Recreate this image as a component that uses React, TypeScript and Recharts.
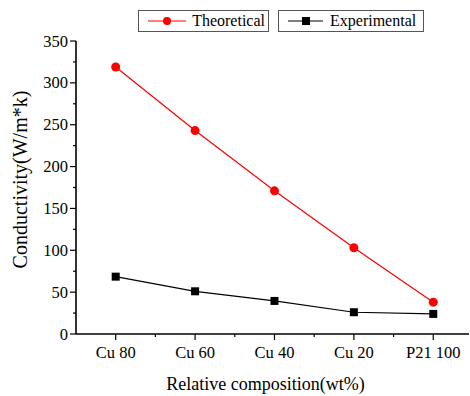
import { Legend, Line, LineChart, XAxis, YAxis } from 'recharts';

const categories = ['Cu 80', 'Cu 60', 'Cu 40', 'Cu 20', 'P21 100'];
const theoretical = [319, 243, 171, 103, 38];
const experimental = [68.5, 51, 39.5, 26, 24];
const xTicks = [0, 0.5, 1, 1.5, 2, 2.5, 3, 3.5, 4];
const yTicks = [0, 25, 50, 75, 100, 125, 150, 175, 200, 225, 250, 275, 300, 325, 350];

const data = categories.map((name, i) => ({
  idx: i,
  name,
  theoretical: theoretical[i],
  experimental: experimental[i],
}));

const FONT = 'Liberation Serif, Times New Roman, Times, serif';

function BottomTick(props: any) {
  const { x, y, payload } = props;
  const major = payload.value % 1 === 0;
  return (
    <g>
      <line x1={x} x2={x} y1={y} y2={y + (major ? 6 : 3)} stroke="#000" strokeWidth={1.2} />
      {major && (
        <text x={x} y={y + 24} textAnchor="middle" fontSize={16.5} fontFamily={FONT} fill="#000">
          {categories[payload.value]}
        </text>
      )}
    </g>
  );
}

function TopTick(props: any) {
  const { x, y } = props;
  return <line x1={x} x2={x} y1={y} y2={y + 2} stroke="#777" strokeWidth={1} />;
}

function LeftTick(props: any) {
  const { x, y, payload } = props;
  const major = payload.value % 50 === 0;
  return (
    <g>
      <line x1={x - (major ? 6 : 3)} x2={x} y1={y} y2={y} stroke="#000" strokeWidth={1.2} />
      {major && (
        <text x={x - 8} y={y + 5.5} textAnchor="end" fontSize={16.5} fontFamily={FONT} fill="#000">
          {payload.value}
        </text>
      )}
    </g>
  );
}

function YTitle(props: any) {
  const vb = props.viewBox;
  const cy = vb.y + vb.height / 2 - 8;
  return (
    <text
      x={20}
      y={cy}
      transform={`rotate(-90, 20, ${cy})`}
      textAnchor="middle"
      dominantBaseline="central"
      fontSize={20}
      fontFamily={FONT}
      fill="#000"
    >
      Conductivity(W/m*k)
    </text>
  );
}

function XTitle(props: any) {
  const vb = props.viewBox;
  return (
    <text x={vb.x + vb.width / 2 - 7} y={390} textAnchor="middle" fontSize={18} fontFamily={FONT} fill="#000">
      Relative composition(wt%)
    </text>
  );
}

function SquareDot(props: any) {
  const { cx, cy } = props;
  if (cx == null || cy == null) return null;
  return <rect x={cx - 4} y={cy - 4} width={8} height={8} fill="#000" />;
}

function LegendBoxes() {
  const box: React.CSSProperties = {
    display: 'flex',
    alignItems: 'center',
    border: '1px solid #555',
    height: 22,
    padding: '0 3px 0 9px',
    fontFamily: FONT,
    fontSize: 16,
    color: '#000',
    boxSizing: 'border-box',
  };
  return (
    <div style={{ display: 'flex', gap: 9 }}>
      <div style={{ ...box, width: 131 }}>
        <svg width={39} height={12}>
          <line x1={0} x2={38} y1={6} y2={6} stroke="#ff0000" strokeWidth={1.2} />
          <circle cx={19} cy={6} r={4} fill="#ff0000" />
        </svg>
        <span style={{ marginLeft: 6 }}>Theoretical</span>
      </div>
      <div style={{ ...box, width: 146 }}>
        <svg width={36} height={12}>
          <line x1={0} x2={35} y1={6} y2={6} stroke="#000" strokeWidth={1.2} />
          <rect x={14} y={2} width={8} height={8} fill="#000" />
        </svg>
        <span style={{ marginLeft: 6 }}>Experimental</span>
      </div>
    </div>
  );
}

export default function App() {
  return (
    <div
      style={{
        position: 'absolute',
        left: 0,
        top: 0,
        width: 470,
        height: 396,
        background: '#fff',
        fontFamily: FONT,
      }}
    >
      <LineChart
        width={470}
        height={396}
        data={data}
        margin={{ top: 41, right: 1, bottom: 0, left: 0 }}
      >
        <XAxis
          dataKey="idx"
          type="number"
          domain={[-0.5, 4.45]}
          ticks={xTicks}
          interval={0}
          height={62}
          tickSize={0}
          tickMargin={0}
          tick={<BottomTick />}
          axisLine={{ stroke: '#000', strokeWidth: 1.6 }}
          label={<XTitle />}
        />
        <XAxis
          xAxisId="top"
          orientation="top"
          dataKey="idx"
          type="number"
          domain={[-0.5, 4.45]}
          ticks={xTicks}
          interval={0}
          height={0}
          tickSize={0}
          tickMargin={0}
          tick={<TopTick />}
          axisLine={{ stroke: '#000', strokeWidth: 1.6 }}
        />
        <YAxis
          type="number"
          domain={[0, 350]}
          ticks={yTicks}
          interval={0}
          width={76}
          tickSize={0}
          tickMargin={0}
          tick={<LeftTick />}
          axisLine={{ stroke: '#000', strokeWidth: 1.6 }}
          label={<YTitle />}
        />
        <Legend
          layout="horizontal"
          verticalAlign="middle"
          align="center"
          wrapperStyle={{ top: 10, left: 138, width: 'auto' }}
          content={<LegendBoxes />}
        />
        <Line
          dataKey="theoretical"
          stroke="#ff0000"
          strokeWidth={1.2}
          dot={{ r: 4.5, fill: '#ff0000', stroke: '#ff0000', strokeWidth: 0 }}
          isAnimationActive={false}
        />
        <Line
          dataKey="experimental"
          stroke="#000"
          strokeWidth={1.2}
          dot={<SquareDot />}
          isAnimationActive={false}
        />
      </LineChart>
    </div>
  );
}
